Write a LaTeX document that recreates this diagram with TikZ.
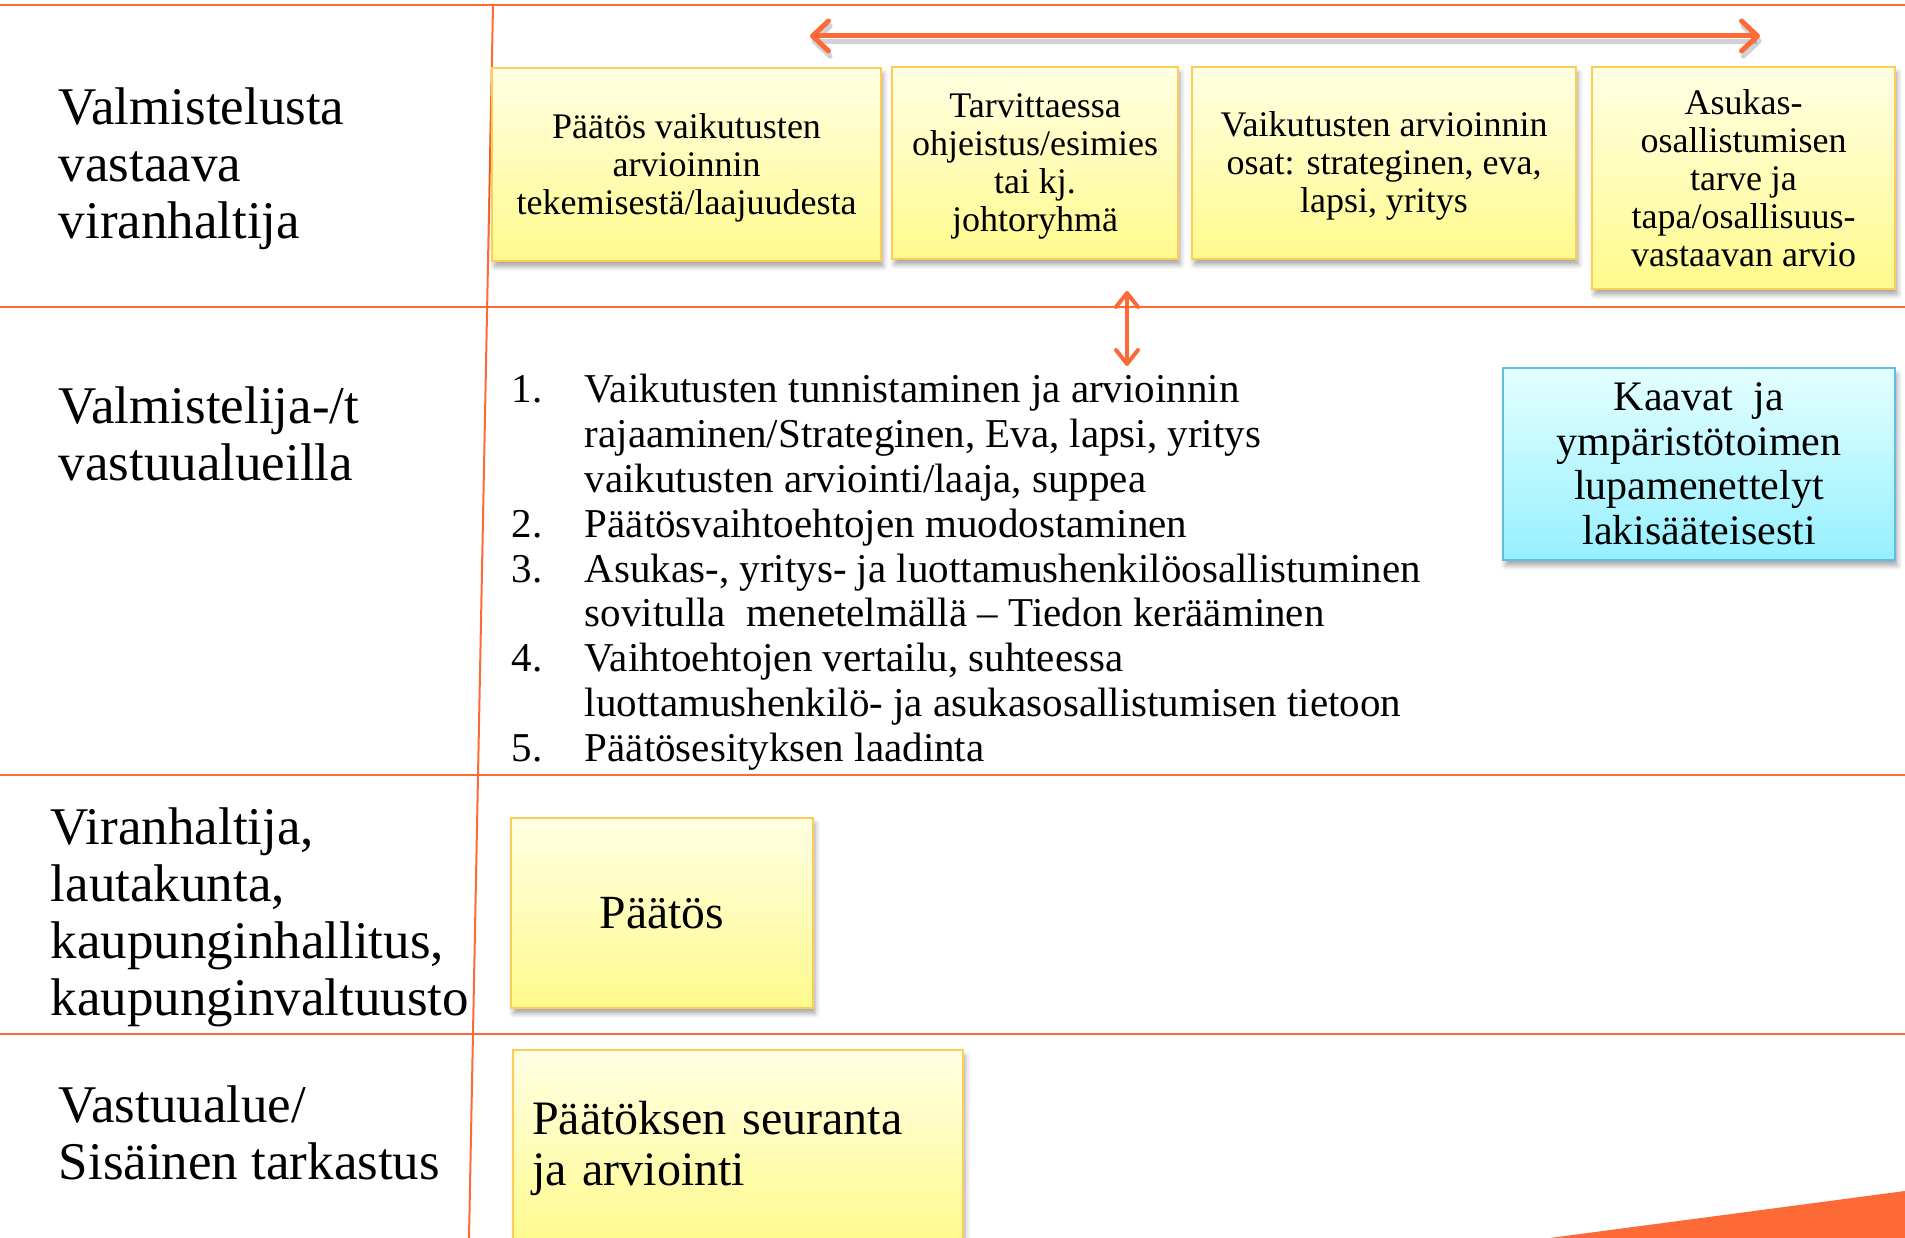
\documentclass[tikz,border=0pt]{standalone}
\usepackage{fontspec}
\setmainfont{Liberation Serif}
\usetikzlibrary{arrows.meta,shadows.blur}
\definecolor{orng}{RGB}{253,106,55}
\definecolor{ytop}{RGB}{255,255,228}
\definecolor{ybot}{RGB}{255,250,140}
\definecolor{gold}{RGB}{255,205,85}
\definecolor{ctop}{RGB}{228,255,255}
\definecolor{cbot}{RGB}{150,240,255}
\definecolor{cbord}{RGB}{95,190,230}
\newcommand{\lowtxt}[1]{\raisebox{-1pt}[\height][\depth]{\begin{tabular}{@{}c@{}}#1\end{tabular}}}
\begin{document}
\begin{tikzpicture}[x=0.25pt,y=-0.25pt,
  rule/.style={draw=orng, line width=0.5pt},
  shad/.style={blur shadow={shadow xshift=0.6pt, shadow yshift=-1.4pt, shadow opacity=35, shadow blur radius=1.2pt}},
  ybox/.style={shad, draw=gold, line width=0.5pt, top color=ytop, bottom color=ybot, inner sep=2pt, align=center, text=black},
  cbox/.style={shad, draw=cbord, line width=0.5pt, top color=ctop, bottom color=cbot, inner sep=2pt, align=center, text=black},
  smalltxt/.style={font=\fontsize{9}{9.5}\selectfont},
  lbl/.style={anchor=west, align=left, inner sep=0pt, font=\fontsize{13.25}{14.25}\selectfont},
  litem/.style={anchor=mid west, inner sep=0pt, font=\fontsize{10.25}{11.2}\selectfont},
  bigarrow/.style={draw=orng, line width=1.25pt, {Straight Barb[length=4pt,width=7.5pt,round]}-{Straight Barb[length=4pt,width=7.5pt,round]}},
  smallarrow/.style={draw=orng, line width=1pt, {Straight Barb[length=3.5pt,width=5.5pt,round]}-{Straight Barb[length=3.5pt,width=5.5pt,round]}}
]
\useasboundingbox (0,0) rectangle (1905,1238);

% grid lines
\draw[rule] (0,5.5) -- (1905,5.5);
\draw[rule] (0,307) -- (1905,307);
\draw[rule] (0,775) -- (1905,775);
\draw[rule] (0,1034) -- (1905,1034);
\draw[rule] (493,5.5) -- (469,1238);

% bottom-right triangle
\fill[orng] (1550,1238) -- (1905,1191) -- (1905,1238) -- cycle;

% left labels
\node[lbl] (lab1) at (58,169) {Valmistelusta\\vastaava\\viranhaltija};
\node[lbl] (lab2) at (58,434) {Valmistelija-/t\\vastuualueilla};
\node[lbl] (lab3) at (50,917) {Viranhaltija,\\lautakunta,\\kaupunginhallitus,\\kaupunginvaltuusto};
\node[lbl] (lab4) at (58,1133) {Vastuualue/\\Sisäinen tarkastus};

% top row boxes
\node[ybox, smalltxt, minimum width=97.25pt, minimum height=48.25pt] (bA) at (686.5,164.5)
  {\lowtxt{Päätös vaikutusten\\arvioinnin\\tekemisestä/laajuudesta}};
\node[ybox, smalltxt, minimum width=71.5pt, minimum height=48pt] (bB) at (1035,163)
  {\lowtxt{Tarvittaessa\\ohjeistus/esimies\\tai kj.\\johtoryhmä}};
\node[ybox, smalltxt, minimum width=96pt, minimum height=48pt] (bC) at (1384,163)
  {\lowtxt{Vaikutusten arvioinnin\\osat: strateginen, eva,\\lapsi, yritys}};
\node[ybox, smalltxt, minimum width=75.75pt, minimum height=55.5pt] (bD) at (1743.5,178)
  {Asukas-\\osallistumisen\\tarve ja\\tapa/osallisuus-\\vastaavan arvio};

% top arrow
\coordinate (tl) at (810,36);
\coordinate (tr) at (1760,36);
\draw[bigarrow, draw=black, opacity=0.18] ([yshift=-1.3pt,xshift=0.4pt]tl) -- ([yshift=-1.3pt,xshift=0.4pt]tr);
\draw[bigarrow] (tl) -- (tr);

% vertical double arrow
\coordinate (vt) at (1127,291);
\coordinate (vb) at (1127,366);
\draw[smallarrow] (vt) -- (vb);

% Kaavat box
\node[cbox, font=\fontsize{10.5}{11.15}\selectfont, minimum width=98pt, minimum height=48pt] (kaavat) at (1699,464)
  {Kaavat\ \ ja\\ympäristötoimen\\lupamenettelyt\\lakisääteisesti};

% numbered list
\node[litem] (n1) at (511,393) {1.};
\node[litem] (t1) at (584,393) {Vaikutusten tunnistaminen ja arvioinnin};
\node[litem] (t1b) at (584,438) {rajaaminen/Strateginen, Eva, lapsi, yritys};
\node[litem] (t1c) at (584,483) {vaikutusten arviointi/laaja, suppea};
\node[litem] (n2) at (511,528) {2.};
\node[litem] (t2) at (584,528) {Päätösvaihtoehtojen muodostaminen};
\node[litem] (n3) at (511,573) {3.};
\node[litem] (t3) at (584,573) {Asukas-, yritys- ja luottamushenkilöosallistuminen};
\node[litem] (t3b) at (584,617) {sovitulla\ \ menetelmällä – Tiedon kerääminen};
\node[litem] (n4) at (511,662) {4.};
\node[litem] (t4) at (584,662) {Vaihtoehtojen vertailu, suhteessa};
\node[litem] (t4b) at (584,707) {luottamushenkilö- ja asukasosallistumisen tietoon};
\node[litem] (n5) at (511,752) {5.};
\node[litem] (t5) at (584,752) {Päätösesityksen laadinta};

% Paatos box
\node[ybox, font=\fontsize{11.9}{12.75}\selectfont, minimum width=75.5pt, minimum height=47.5pt] (paatos) at (662,913) {Päätös};

% Seuranta box
\node[ybox, align=left, font=\fontsize{12}{12.75}\selectfont, minimum width=112.5pt, minimum height=48.75pt, text width=103pt] (seur) at (738,1148)
  {Päätöksen seuranta\\ja arviointi};
\end{tikzpicture}
\end{document}
